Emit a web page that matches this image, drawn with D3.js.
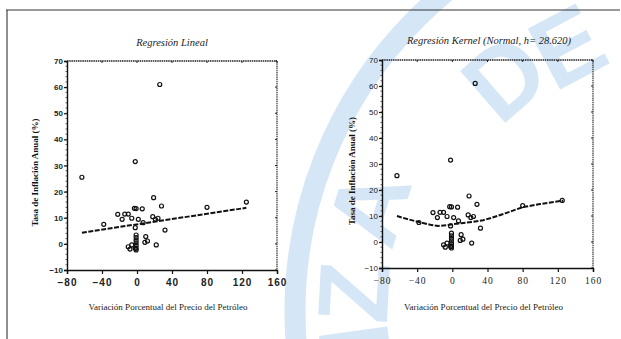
<!DOCTYPE html>
<html><head><meta charset="utf-8">
<script src="https://cdn.jsdelivr.net/npm/d3@7/dist/d3.min.js"></script>
<style>html,body{margin:0;padding:0;background:#fff;}svg{display:block;}</style>
</head><body>
<svg id="c" width="621" height="339"></svg>
<script>
// ---- data ----
const xTicks = [-80, -40, 0, 40, 80, 120, 160];
const yTicks = [-10, 0, 10, 20, 30, 40, 50, 60, 70];
const oilChange = [-63, -2, 26, 19, 28, 125, 80, -3, -1, 6, -22, -14, -10, 18, 21, 24, -17, -38, -6, 1.5, 7, -2, 32, 10, 12, 9, 22, -10, -6, -8, -2, -1, -1, -1, -1, -1, -1, -1];
const inflation = [25.5, 31.5, 61, 17.7, 14.5, 16, 14, 13.6, 13.5, 13.4, 11.3, 11.4, 11.4, 10.4, 9.4, 9.8, 9.4, 7.5, 9.8, 9.4, 8.1, 6.2, 5.3, 2.8, 1.1, 0.6, -0.4, -1.1, -0.4, -2, -1.7, 3.4, 2.4, 1.4, 0.4, -0.6, -1.6, -2.3];
const linearFitX = [-63, 125];
const linearFitY = [4.3, 13.8];
const kernelFitX = [-63, -50, -37, -25, -16, -5, 1, 10, 24, 35, 43, 60, 80, 100, 126];
const kernelFitY = [10, 8.7, 7.6, 6.6, 6.2, 6.5, 6.9, 7.2, 7.8, 8.4, 9.1, 11, 13.4, 14.6, 15.9];
const titles = ["Regresión Lineal", "Regresión Kernel (Normal, h= 28.620)"];
const xTitle = "Variación Porcentual del Precio del Petróleo";
const yTitle = "Tasa de Inflación Anual (%)";
const watermarkLetters = ["N", "Z", "A", "D", "E"];

const svg = d3.select("#c");
const wm = "#d5e6f6";

// ---- watermark (seal) ----
const wg = svg.append("g");
const cx = 708, cy = 311;
wg.append("circle").attr("cx", cx).attr("cy", cy).attr("r", 413)
  .attr("fill", "none").attr("stroke", wm).attr("stroke-width", 21);
const letterAngles = [-8, 3, 17, 49, 62];
const letterRadii = [355, 355, 355, 310, 300];
watermarkLetters.forEach((L, i) => {
  const t = letterAngles[i] * Math.PI / 180;
  const px = cx - letterRadii[i] * Math.cos(t), py = cy - letterRadii[i] * Math.sin(t);
  wg.append("text").attr("transform", `translate(${px},${py}) rotate(${letterAngles[i] - 90})`)
    .attr("text-anchor", "middle").attr("dominant-baseline", "central")
    .attr("font-family", "Liberation Sans").attr("font-weight", "bold").attr("font-size", 100)
    .attr("fill", wm).text(L);
});

// ---- document frame ----
svg.append("line").attr("x1", 6).attr("x2", 620).attr("y1", 10).attr("y2", 10).attr("stroke", "#333").attr("stroke-width", 1);
svg.append("line").attr("x1", 7).attr("x2", 7).attr("y1", 10).attr("y2", 339).attr("stroke", "#444").attr("stroke-width", 1.2);

const points = oilChange.map((x, i) => ({x, y: inflation[i]}));
const linFit = linearFitX.map((x, i) => ({x, y: linearFitY[i]}));
const kerFit = kernelFitX.map((x, i) => ({x, y: kernelFitY[i]}));

const panels = [
  {left: 67, right: 277, top: 61, bottom: 270, title: titles[0], titleX: 172, titleY: 46, fit: linFit, ylabX: 38, bold: true},
  {left: 382, right: 593, top: 60, bottom: 268, title: titles[1], titleX: 489, titleY: 44, fit: kerFit, ylabX: 355, bold: false}
];

panels.forEach(p => {
  const x = d3.scaleLinear().domain([-80, 160]).range([p.left, p.right]);
  const y = d3.scaleLinear().domain([-10, 70]).range([p.bottom, p.top]);
  const g = svg.append("g");

  // box
  g.append("line").attr("x1", p.left).attr("x2", p.right).attr("y1", p.top).attr("y2", p.top)
    .attr("stroke", "#222").attr("stroke-width", 1.3).attr("stroke-dasharray", "1.5,0.7");
  g.append("line").attr("x1", p.right).attr("x2", p.right).attr("y1", p.top).attr("y2", p.bottom)
    .attr("stroke", "#222").attr("stroke-width", 1.1).attr("stroke-dasharray", "1.5,0.7");

  // left axis
  const ya = d3.axisLeft(y).tickValues(yTicks).tickSize(3).tickPadding(1).tickFormat(d3.format("d"));
  const yg = g.append("g").attr("transform", `translate(${p.left},0)`).call(ya);
  yg.select(".domain").attr("stroke", "#111").attr("stroke-width", 1.4);
  yg.selectAll(".tick line").attr("stroke", "#111").attr("stroke-width", 1.2);
  yg.selectAll("text").attr("font-family", "Liberation Sans").attr("font-weight", p.bold ? "bold" : "normal")
    .attr("font-size", 8).attr("fill", "#222");
  // minor ticks on left axis
  g.selectAll(".minorY").data(d3.range(-8, 70, 2)).join("line")
    .attr("x1", p.left - 1.5).attr("x2", p.left).attr("y1", d => y(d)).attr("y2", d => y(d))
    .attr("stroke", "#333").attr("stroke-width", 0.8);
  // right-side small ticks
  g.selectAll(".rt").data(yTicks).join("line")
    .attr("x1", p.right - 2).attr("x2", p.right).attr("y1", d => y(d)).attr("y2", d => y(d))
    .attr("stroke", "#222").attr("stroke-width", 1);

  // bottom axis
  const xa = d3.axisBottom(x).tickValues(xTicks).tickSize(4).tickPadding(5).tickFormat(d3.format("d"));
  const xg = g.append("g").attr("transform", `translate(0,${p.bottom})`).call(xa);
  xg.select(".domain").attr("stroke", "#111").attr("stroke-width", 1.4);
  xg.selectAll(".tick line").attr("stroke", "#111").attr("stroke-width", 1.2);
  xg.selectAll("text").attr("font-family", p.bold ? "Liberation Sans" : "Liberation Serif")
    .attr("font-weight", p.bold ? "bold" : "normal").attr("font-size", p.bold ? 10 : 9.5)
    .attr("fill", "#222").attr("letter-spacing", 1);
  g.selectAll(".topt").data(xTicks).join("line")
    .attr("x1", d => x(d)).attr("x2", d => x(d)).attr("y1", p.top).attr("y2", p.top + 2)
    .attr("stroke", "#222").attr("stroke-width", 1);

  // titles
  g.append("text").attr("x", p.titleX).attr("y", p.titleY).attr("text-anchor", "middle")
    .attr("font-family", "Liberation Serif").attr("font-style", "italic").attr("font-size", 10.5)
    .attr("fill", "#222").text(p.title);
  g.append("text").attr("x", (p.left + p.right) / 2 - 4).attr("y", 310).attr("text-anchor", "middle")
    .attr("font-family", "Liberation Serif").attr("font-size", 9).attr("fill", "#222").text(xTitle);
  g.append("text").attr("transform", `translate(${p.ylabX},${(p.top + p.bottom) / 2 + 7}) rotate(-90)`)
    .attr("text-anchor", "middle").attr("font-family", "Liberation Serif").attr("font-weight", "bold")
    .attr("font-size", 9).attr("fill", "#111").text(yTitle);

  // fit line
  g.append("path").datum(p.fit)
    .attr("d", d3.line().x(d => x(d.x)).y(d => y(d.y)))
    .attr("fill", "none").attr("stroke", "#111").attr("stroke-width", 2).attr("stroke-dasharray", "5,1.5");

  // points
  g.selectAll(".pt").data(points).join("circle")
    .attr("cx", d => x(d.x)).attr("cy", d => y(d.y)).attr("r", 2)
    .attr("fill", "none").attr("stroke", "#111").attr("stroke-width", 1.2);
});
</script>
</body></html>
